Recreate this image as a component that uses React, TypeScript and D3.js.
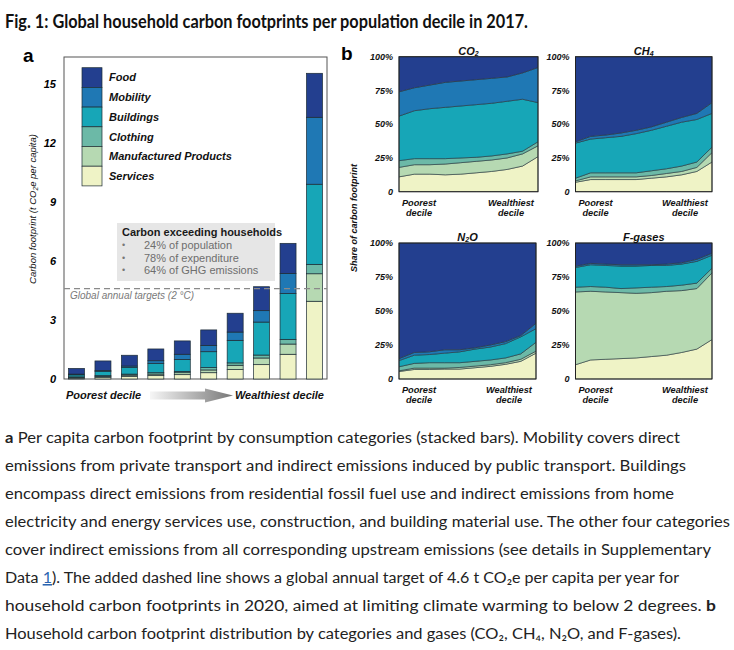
import React from "react";
import * as d3 from "d3";

const SANS = "'Liberation Sans', Arial, Helvetica, sans-serif";
const NARROW = "Lato, 'Liberation Sans Narrow', 'Liberation Sans', sans-serif";

// bottom -> top stacking order
const categories = ["Services", "Manufactured Products", "Clothing", "Buildings", "Mobility", "Food"];
const catColors = ["#eff3c6", "#b6d9b2", "#6cb9a7", "#17a6b7", "#1f78b4", "#233f8f"];
const deciles = ["D1", "D2", "D3", "D4", "D5", "D6", "D7", "D8", "D9", "D10"];

// panel a: t CO2e per capita
const services = [0.05, 0.09, 0.14, 0.17, 0.22, 0.32, 0.48, 0.73, 1.26, 3.96];
const manufactured = [0.03, 0.04, 0.06, 0.08, 0.1, 0.14, 0.22, 0.34, 0.52, 1.4];
const clothing = [0.03, 0.04, 0.05, 0.07, 0.07, 0.12, 0.12, 0.15, 0.24, 0.48];
const buildings = [0.1, 0.21, 0.33, 0.48, 0.61, 0.81, 1.15, 1.68, 2.34, 4.08];
const mobility = [0.04, 0.06, 0.08, 0.13, 0.26, 0.32, 0.42, 0.58, 1.02, 3.41];
const food = [0.29, 0.48, 0.55, 0.6, 0.68, 0.79, 0.96, 1.22, 1.53, 2.24];
const footprint = [services, manufactured, clothing, buildings, mobility, food];
const yTicksA = [0, 3, 6, 9, 12, 15];
const targetLine = 4.6;
const exceedNotes = ["24% of population", "78% of expenditure", "64% of GHG emissions"];

// panel b: share (%) per category, rows in stacking order
const co2Shares = [
  [11, 13, 13, 12.5, 13, 14, 15, 16.5, 19, 26],
  [7, 7, 7, 8, 8.5, 8.5, 8.5, 8.5, 9, 8],
  [5, 4.5, 4.5, 4, 3.5, 3, 3, 3, 2, 3],
  [33, 35.5, 37, 38, 38.5, 39, 39, 39, 38.5, 29],
  [18, 17, 17.5, 18.5, 18.5, 18.5, 18.5, 18, 19.5, 26],
  [26, 23, 21, 19, 18, 17, 16, 15, 12, 8],
];
const ch4Shares = [
  [7, 9, 9, 9, 9, 10, 11, 12.5, 15, 22],
  [1, 2, 2, 2, 2, 2, 2.5, 2.5, 3, 7],
  [2, 3, 3, 3, 3, 3.5, 3.5, 4, 4, 4],
  [26, 25, 26, 27, 29, 30, 31.5, 32.5, 31.5, 25],
  [1, 2, 2, 2.5, 2.5, 2.5, 3, 3.5, 4.5, 8],
  [63, 59, 58, 56.5, 54.5, 52, 48.5, 45, 42, 34],
];
const n2oShares = [
  [5.5, 7, 7, 7.3, 7.3, 8.3, 9.3, 10.8, 13, 19],
  [0.5, 1, 1, 0.7, 1.2, 1.2, 1.2, 1.2, 1.5, 1.5],
  [3, 3.5, 4, 4, 3.5, 3.5, 3.5, 3.5, 4, 6.5],
  [4.5, 6, 6, 7, 8, 9, 9.5, 10.5, 12.5, 10],
  [1.5, 2, 2, 2.5, 1.5, 1, 1.5, 1.5, 1, 4],
  [85, 80.5, 80, 78.5, 78.5, 77, 75, 72.5, 68, 59],
];
const fgasShares = [
  [10.5, 14, 14.5, 15, 15.5, 16.5, 17.5, 19.5, 22, 29],
  [53.5, 50.5, 49.5, 48.5, 47.5, 47, 47, 45.5, 44.5, 49],
  [3.5, 3.5, 3.5, 3, 4, 4, 3.5, 4, 4, 3.5],
  [14.5, 16, 16, 16.5, 16, 16, 15.5, 15.5, 16, 9.5],
  [1, 1, 1, 1, 1, 0.5, 1, 1, 1.5, 1.5],
  [17, 15, 15.5, 16, 16, 16, 15.5, 14.5, 12, 7.5],
];
const shareTicks = [0, 25, 50, 75, 100];

type Seg = { t: string; b?: boolean; link?: boolean };
const captionLines: Seg[][] = [
  [{ t: "a", b: true }, { t: " Per capita carbon footprint by consumption categories (stacked bars). Mobility covers direct" }],
  [{ t: "emissions from private transport and indirect emissions induced by public transport. Buildings" }],
  [{ t: "encompass direct emissions from residential fossil fuel use and indirect emissions from home" }],
  [{ t: "electricity and energy services use, construction, and building material use. The other four categories" }],
  [{ t: "cover indirect emissions from all corresponding upstream emissions (see details in Supplementary" }],
  [{ t: "Data " }, { t: "1", link: true }, { t: "). The added dashed line shows a global annual target of 4.6 t CO₂e per capita per year for" }],
  [{ t: "household carbon footprints in 2020, aimed at limiting climate warming to below 2 degrees. " }, { t: "b", b: true }],
  [{ t: "Household carbon footprint distribution by categories and gases (CO₂, CH₄, N₂O, and F-gases)." }],
];
const captionEnds = [680, 686, 674, 730, 711, 679, 716, 681];

const toRows = (table: number[][]) =>
  deciles.map((d, i) => {
    const r: Record<string, number | string> = { decile: d };
    categories.forEach((c, j) => (r[c] = table[j][i]));
    return r;
  });

const BarPanel = () => {
  const x = d3.scaleBand<string>().domain(deciles).range([64, 327]).paddingInner(0.395).paddingOuter(0.171);
  const y = d3.scaleLinear().domain([0, 16.4]).range([379, 57]);
  const series = d3.stack<any>().keys(categories)(toRows(footprint));
  const legendTop = 67.7;
  const sw = 19.7;

  return (
    <g fontFamily={SANS}>
      <text x={23} y={62} fontSize={19} fontWeight="bold">a</text>
      <rect x={64} y={57} width={263} height={322} fill="none" stroke="#555" strokeWidth={1} />
      {yTicksA.map((t) => (
        <text key={t} x={56} y={y(t)} dy="0.35em" textAnchor="end" fontSize={11} fontWeight="bold" fontStyle="italic">
          {t}
        </text>
      ))}
      <text transform="translate(36,209) rotate(-90)" textAnchor="middle" fontSize={9.5} fontStyle="italic" fill="#111">
        Carbon footprint (t CO<tspan fontSize={6.5} dy={2}>2</tspan><tspan dy={-2}>e per capita)</tspan>
      </text>

      {series.map((s, i) =>
        s.map((d, k) => (
          <rect
            key={`${i}-${k}`}
            x={x(deciles[k])}
            y={y(d[1])}
            width={x.bandwidth()}
            height={Math.max(0, y(d[0]) - y(d[1]))}
            fill={catColors[i]}
            stroke="#1c2b33"
            strokeWidth={0.7}
          />
        ))
      )}

      <line x1={64} x2={327} y1={y(targetLine)} y2={y(targetLine)} stroke="#8a8a8a" strokeWidth={1.2} strokeDasharray="6,4" />
      <text x={70} y={y(targetLine) + 10} fontSize={10} fontStyle="italic" fill="#7a7a7a">Global annual targets (2 °C)</text>

      <rect x={117} y={223} width={158} height={58} fill="#e6e6e6" />
      <text x={122} y={236} fontSize={11} fontWeight="bold" fill="#1a1a1a">Carbon exceeding households</text>
      {exceedNotes.map((n, i) => (
        <g key={n}>
          <text x={122} y={248 + i * 12.5} fontSize={9} fill="#777">•</text>
          <text x={144} y={249 + i * 12.5} fontSize={11} fill="#6e6e6e">{n}</text>
        </g>
      ))}

      {categories
        .slice()
        .reverse()
        .map((c, i) => (
          <g key={c}>
            <rect x={82} y={legendTop + i * sw} width={20} height={sw} fill={catColors[categories.length - 1 - i]} stroke="#1c2b33" strokeWidth={0.7} />
            <text x={109} y={legendTop + i * sw + sw / 2} dy="0.35em" fontSize={11} fontWeight="bold" fontStyle="italic" fill="#111">
              {c}
            </text>
          </g>
        ))}

      <defs>
        <linearGradient id="arrowGrad" x1="0" x2="1" y1="0" y2="0">
          <stop offset="0" stopColor="#f6f6f6" />
          <stop offset="1" stopColor="#777" />
        </linearGradient>
      </defs>
      <path d="M150,391.5 L205,391.5 L205,388.5 L233,395.5 L205,402.5 L205,399.5 L150,399.5 Z" fill="url(#arrowGrad)" />
      <text x={66} y={398.5} fontSize={11} fontWeight="bold" fontStyle="italic" fill="#111">Poorest decile</text>
      <text x={324} y={398.5} textAnchor="end" fontSize={11} fontWeight="bold" fontStyle="italic" fill="#111">Wealthiest decile</text>
    </g>
  );
};

interface AreaProps {
  left: number;
  right: number;
  top: number;
  bottom: number;
  title: [string, string, string];
  shares: number[][];
}

const AreaPanel = ({ left, right, top, bottom, title, shares }: AreaProps) => {
  const x = d3.scaleLinear().domain([0, deciles.length - 1]).range([left, right]);
  const y = d3.scaleLinear().domain([0, 100]).range([bottom, top]);
  const series = d3.stack<any>().keys(categories)(toRows(shares));
  const area = d3
    .area<d3.SeriesPoint<any>>()
    .x((_, i) => x(i))
    .y0((d) => y(d[0]))
    .y1((d) => y(d[1]));
  const cx = (left + right) / 2;

  return (
    <g fontFamily={SANS}>
      {series.map((s, i) => (
        <path key={i} d={area(s) ?? ""} fill={catColors[i]} stroke="#24343a" strokeWidth={0.6} />
      ))}
      <rect x={left} y={top} width={right - left} height={bottom - top} fill="none" stroke="#222" strokeWidth={1} />
      {shareTicks.map((t) => (
        <text key={t} x={left - 6} y={y(t)} dy="0.35em" textAnchor="end" fontSize={9} fontWeight="bold" fontStyle="italic" fill="#111">
          {t === 0 ? "0" : `${t}%`}
        </text>
      ))}
      <text x={cx} y={top - 2} textAnchor="middle" fontSize={11} fontWeight="bold" fontStyle="italic" fill="#111">
        {title[0]}
        {title[1] && <tspan fontSize={7} dy={1}>{title[1]}</tspan>}
        {title[2] && <tspan dy={-1}>{title[2]}</tspan>}
      </text>
      {[
        ["Poorest", "decile", left + 20],
        ["Wealthiest", "decile", right - 27],
      ].map(([a, b, px]) => (
        <g key={a as string} fontSize={9.2} fontWeight="bold" fontStyle="italic" fill="#111">
          <text x={px as number} y={bottom + 13.8} textAnchor="middle">{a}</text>
          <text x={px as number} y={bottom + 24.2} textAnchor="middle">{b}</text>
        </g>
      ))}
    </g>
  );
};

const Caption = () => (
  <g fontFamily={NARROW} fontSize={15.5} fill="#222">
    {captionLines.map((segs, li) => (
      <text key={li} x={5} y={443 + li * 28} textLength={captionEnds[li] - 5} lengthAdjust="spacingAndGlyphs">
        {segs.map((s, si) => (
          <tspan
            key={si}
            fontWeight={s.b ? "bold" : undefined}
            fill={s.link ? "#2a64b0" : undefined}
            textDecoration={s.link ? "underline" : undefined}
          >
            {s.t}
          </tspan>
        ))}
      </text>
    ))}
  </g>
);

export default function App() {
  return (
    <div style={{ position: "absolute", left: 0, top: 0, width: 734, height: 650, background: "#fff" }}>
      <svg width={734} height={650} viewBox="0 0 734 650">
        <rect width={734} height={650} fill="#fff" />
        <text x={5} y={28} fontFamily={NARROW} fontSize={19.5} fontWeight="bold" fill="#111" textLength={523} lengthAdjust="spacingAndGlyphs">
          Fig. 1: Global household carbon footprints per population decile in 2017.
        </text>
        <BarPanel />
        <text x={341} y={60} fontFamily={SANS} fontSize={19} fontWeight="bold">b</text>
        <text transform="translate(357,218) rotate(-90)" textAnchor="middle" fontFamily={SANS} fontSize={9} fontWeight="bold" fontStyle="italic" fill="#111">
          Share of carbon footprint
        </text>
        <AreaPanel left={399} right={538} top={56.7} bottom={191.7} title={["CO", "2", ""]} shares={co2Shares} />
        <AreaPanel left={575.5} right={712} top={56.7} bottom={191.7} title={["CH", "4", ""]} shares={ch4Shares} />
        <AreaPanel left={399} right={536} top={243} bottom={379} title={["N", "2", "O"]} shares={n2oShares} />
        <AreaPanel left={575.5} right={712} top={243} bottom={379} title={["F-gases", "", ""]} shares={fgasShares} />
        <Caption />
      </svg>
    </div>
  );
}
